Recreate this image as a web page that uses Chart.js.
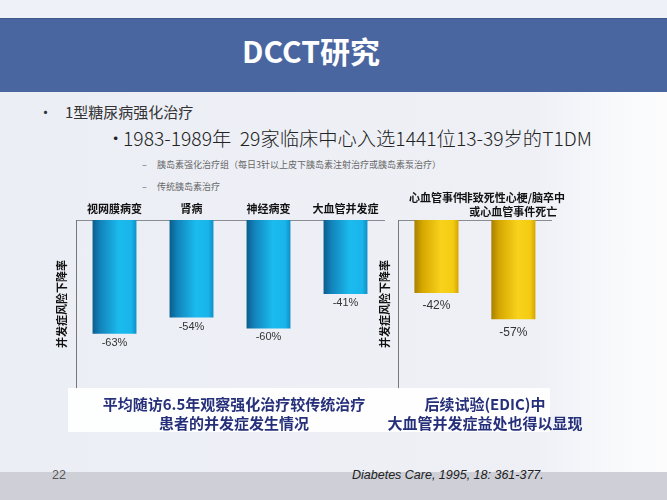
<!DOCTYPE html>
<html><head><meta charset="utf-8">
<script src="https://cdn.jsdelivr.net/npm/chart.js@4.4.1/dist/chart.umd.min.js"></script>
<style>
html,body{margin:0;padding:0;}
body{width:667px;height:500px;position:relative;overflow:hidden;background:linear-gradient(to right,#eceef5 0%,#eef0f6 80%,#f8f9fb 92%,#fcfcfd 100%);font-family:"Noto Sans CJK SC","Noto Sans",sans-serif;}
.abs{position:absolute;white-space:nowrap;}
.topband{left:0;top:0;width:667px;height:18px;background:#eff1f8;}
.titlebar{left:0;top:18px;width:667px;height:74px;background:#4a66a1;border-top:1px solid #3f5789;box-sizing:border-box;}
.title{left:242px;top:18px;height:64px;line-height:64px;font-size:30px;font-weight:bold;color:#fff;}
.b1{font-size:15px;color:#333;line-height:20px;}
.b2{font-size:19.3px;color:#222;line-height:24px;font-weight:300;}
.b3{font-size:9px;color:#666;line-height:12px;}
.caption{left:68px;top:388px;width:482px;height:44px;background:rgba(255,255,255,0.9);}
.cap{font-size:15px;font-weight:bold;color:#26307a;line-height:19px;text-align:center;}
.footer{left:0;top:472px;width:667px;height:28px;background:#cfd0d7;}
.foot{font-family:"Liberation Sans",Arial,sans-serif;font-size:12.5px;color:#222;line-height:16px;}
canvas{position:absolute;}
</style></head>
<body>
<div class="abs topband"></div>
<div class="abs titlebar"></div>
<div class="abs title">DCCT研究</div>

<div class="abs b1" style="left:38px;top:102px;">•</div>
<div class="abs b1" style="left:65px;top:102px;">1型糖尿病强化治疗</div>
<div class="abs b2" style="left:106px;top:126px;">•</div>
<div class="abs b2" style="left:123px;top:126px;">1983-1989年&nbsp;&nbsp;29家临床中心入选1441位13-39岁的T1DM</div>
<div class="abs b3" style="left:142px;top:159px;">–</div>
<div class="abs b3" style="left:157px;top:159px;">胰岛素强化治疗组（每日3针以上皮下胰岛素注射治疗或胰岛素泵治疗）</div>
<div class="abs b3" style="left:142px;top:181px;">–</div>
<div class="abs b3" style="left:157px;top:181px;">传统胰岛素治疗</div>

<canvas id="blue" width="340" height="200" style="left:51px;top:190px;width:340px;height:200px;"></canvas>
<canvas id="yellow" width="194" height="210" style="left:374px;top:180px;width:194px;height:210px;"></canvas>

<div class="abs caption"></div>
<div class="abs cap" style="left:84px;top:394px;width:300px;">平均随访6.5年观察强化治疗较传统治疗<br>患者的并发症发生情况</div>
<div class="abs cap" style="left:385px;top:394px;width:200px;">后续试验(EDIC)中<br>大血管并发症益处也得以显现</div>

<div class="abs footer"></div>
<div class="abs foot" style="left:52px;top:467px;color:#555;">22</div>
<div class="abs foot" style="left:352px;top:467px;font-style:italic;">Diabetes Care, 1995, 18: 361-377.</div>

<script>
const blueCategories = ['视网膜病变', '肾病', '神经病变', '大血管并发症'];
const blueValues = [-63, -54, -60, -41];
const yellowCategories = [['心血管事件', ''], ['非致死性心梗/脑卒中', '或心血管事件死亡']];
const yellowValues = [-42, -57];
const yAxisTitle = '并发症风险下降率';

const blueStops = [[0, '#0b5d8c'], [0.18, '#1283bb'], [0.6, '#1bbbee'], [0.88, '#19b5ea'], [1, '#0f8fc6']];
const yellowStops = [[0, '#a88000'], [0.18, '#d6a700'], [0.6, '#f8d21c'], [0.88, '#f3cb12'], [1, '#d4a400']];

function makeChart(id, labels, values, stops, opts) {
  const valuePlugin = {
    id: 'values',
    afterDatasetsDraw(chart) {
      const ctx = chart.ctx;
      ctx.save();
      ctx.font = opts.valueFont;
      ctx.fillStyle = '#333';
      ctx.textAlign = 'center';
      ctx.textBaseline = 'middle';
      chart.getDatasetMeta(0).data.forEach((bar, i) => {
        const p = bar.getProps(['x', 'y'], true);
        ctx.fillText(chart.data.datasets[0].data[i] + '%', p.x, p.y + opts.valueOffset);
      });
      ctx.restore();
    }
  };
  const cylinder = (c) => {
    const chart = c.chart;
    const xs = chart.scales && chart.scales.x;
    if (!chart.chartArea || !xs || c.dataIndex === undefined) return stops[2][1];
    const cx = xs.getPixelForValue(c.dataIndex);
    const w = (xs.width / labels.length) * opts.barPct;
    const g = chart.ctx.createLinearGradient(cx - w / 2, 0, cx + w / 2, 0);
    stops.forEach(s => g.addColorStop(s[0], s[1]));
    return g;
  };
  return new Chart(document.getElementById(id), {
    type: 'bar',
    data: { labels: labels, datasets: [{ data: values, backgroundColor: cylinder, borderWidth: 0, barPercentage: opts.barPct, categoryPercentage: 1 }] },
    options: {
      responsive: false, animation: false, devicePixelRatio: 1,
      layout: { padding: { left: 0, top: 0, right: opts.padRight, bottom: 2 } },
      plugins: { legend: { display: false }, tooltip: { enabled: false } },
      scales: {
        x: {
          position: 'top',
          grid: { display: false, drawTicks: false },
          border: { display: true, color: '#8a8c94', width: 1 },
          ticks: { color: '#111', padding: opts.tickPad, font: { family: 'Noto Sans CJK SC', size: 11, weight: 'bold', lineHeight: 1.25 }, maxRotation: 0, autoSkip: false },
          afterFit(s) { s.height = opts.xHeight; }
        },
        y: {
          min: opts.min, max: 0,
          grid: { display: false, drawTicks: false },
          border: { display: true, color: '#777', width: 1 },
          ticks: { display: false },
          title: { display: true, text: yAxisTitle, color: '#111', font: { family: 'Noto Sans CJK SC', size: 11, weight: 'bold' }, padding: { top: 4, bottom: 4 } },
          afterFit(s) { s.width = opts.yWidth; }
        }
      }
    },
    plugins: [valuePlugin]
  });
}

makeChart('blue', blueCategories, blueValues, blueStops, { min: -93, barPct: 0.57, padRight: 7, xHeight: 30, yWidth: 25, tickPad: 4, valueFont: '11px "Liberation Sans", Arial, sans-serif', valueOffset: 9 });
makeChart('yellow', yellowCategories, yellowValues, yellowStops, { min: -96.5, barPct: 0.573, padRight: 6, xHeight: 40, yWidth: 24, tickPad: 1.5, valueFont: '12px "Liberation Sans", Arial, sans-serif', valueOffset: 13 });
</script>
</body></html>
